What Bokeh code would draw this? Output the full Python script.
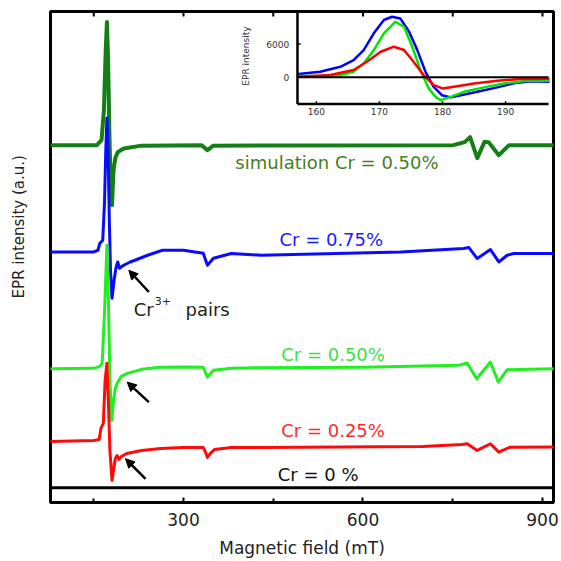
import math
from bokeh.plotting import figure
from bokeh.models import Range1d, FixedTicker, Arrow, NormalHead, Title
from bokeh.core.properties import value
from bokeh.embed import file_html
from bokeh.resources import INLINE

# ---------------- main spectra (field in mT, intensity in a.u. incl. vertical offset) -------------
sim_field = [78, 155, 163, 167, 170, 172, 174, 176, 178, 180.5, 183, 186, 190, 200, 230, 330, 340, 350,
             751, 770, 779, 791, 803, 810, 827, 844, 918]
sim_int = [357, 357, 362, 392, 452, 480, 442, 372, 322, 297, 332, 344, 350, 353.7, 356.5, 357, 352, 356.5,
           357, 360, 365, 344, 360.3, 360, 347, 357, 357]

blue_field = [78, 150, 157, 160, 165, 168, 170, 172, 174, 176, 178, 180.5, 184, 187, 190, 193, 200, 210, 240,
              265, 300, 333, 340, 350, 380, 430, 663, 768, 777, 791, 813, 827, 841, 852, 918]
blue_int = [250.3, 250.3, 252, 258.7, 262, 300, 350, 384, 352, 282, 232, 204, 222, 234, 240.3, 234, 237, 240, 247,
            252, 252, 249, 237, 244, 248.7, 247, 250.3, 253.7, 254.7, 243.7, 252.7, 240.3, 247, 248.7, 248.7]

green_field = [78, 150, 160, 164, 168, 172, 175, 177, 180, 183, 186, 190, 196, 206, 230, 260, 300, 333, 340,
               350, 380, 430, 600, 760, 774, 790, 813, 826, 841, 918]
green_int = [133.7, 134, 136, 138.7, 190, 257, 190, 122, 82, 102, 114, 120, 126, 129, 133, 135, 135.3, 135,
             125.3, 132, 134, 134.7, 135, 137, 139.3, 123.7, 140.3, 120.3, 132.7, 133.7]

red_field = [78, 150, 159, 162, 166, 169, 172, 174.5, 177, 180.5, 183, 186, 189, 192, 196, 205, 230, 262, 300,
             333, 337, 340, 345, 352, 380, 430, 560, 700, 765, 774, 791, 813, 827, 846, 918]
red_int = [61, 62, 63, 74, 79, 122, 139, 100, 52, 22, 32, 44, 47, 43, 46, 49, 52, 54, 55,
           55, 50, 45, 49, 53, 55, 55, 55.5, 56, 58, 58.7, 52, 58.7, 50.3, 55.3, 55.5]

zero_field = [78, 918]
zero_int = [14.7, 14.7]

# ---------------- inset spectra ----------------
ib_field = [157.2, 160.6, 163.8, 165.9, 167.5, 169.1, 170.7, 172.0, 173.3, 174.7, 176.0, 177.3, 178.6, 179.9,
            181.3, 182.9, 185.5, 188.7, 191.3, 194.0, 196.8]
ib_int = [594, 1008, 1908, 3114, 4914, 7914, 10314, 10900, 10600, 8200, 4900, 1000, -1700, -3200,
          -3600, -3200, -2600, -1800, -1080, -700, -800]
ig_field = [157.2, 160.6, 163.8, 165.9, 167.5, 169.1, 170.7, 172.5, 173.9, 175.2, 176.5, 177.8, 178.9, 179.7,
            181.3, 183.4, 186.6, 189.7, 193.4, 196.8]
ig_int = [234, 234, 414, 1008, 2514, 4914, 7914, 10000, 9100, 5500, 1314, -1986, -3500, -4100,
          -3500, -2600, -1800, -1086, -606, -606]
ir_field = [157.2, 162.2, 165.9, 168.0, 170.2, 172.3, 173.9, 175.4, 177.0, 178.6, 180.0, 181.8, 185.0,
            188.7, 192.4, 196.8]
ir_int = [114, 414, 1314, 2814, 4614, 5514, 4914, 2814, 414, -1386, -1986, -1686, -1086, -606, -306, -246]

inset_xticks = [160, 170, 180, 190]
inset_yticks = [0, 6000]
inset_xlim = (157.0, 196.8)
inset_ylim = (-4806, 11844)

main_ticks = [300, 600, 900]
main_minor = [150, 450, 750]
y_top = 490.5

# labels
label_text = ["simulation Cr = 0.50%", "Cr = 0.75%", "Cr = 0.50%", "Cr = 0.25%", "Cr = 0 %"]
label_field = [556.5, 547, 550, 550, 525]
label_int = [339.5, 263, 148, 71.5, 28]
label_color = ["#45801c", "#1a1aff", "#3ce03c", "#ff2a2a", "#111111"]

arrow_x0 = [242.1, 242.1, 236.5]
arrow_y0 = [210.3, 100.3, 23.7]
arrow_x1 = [208.6, 205.9, 203.1]
arrow_y1 = [232, 120.3, 43.7]

FONT = "DejaVu Sans"

p = figure(width=561, height=561, x_range=Range1d(77.7, 918.4), y_range=Range1d(0, y_top),
           y_axis_location=None, output_backend="svg", toolbar_location=None,
           min_border_left=50, min_border_right=8, min_border_top=11, min_border_bottom=59)
p.grid.visible = False
p.outline_line_color = "black"
p.outline_line_width = 3
p.background_fill_color = "white"
p.border_fill_color = "white"

ax = p.xaxis[0]
ax.ticker = FixedTicker(ticks=main_ticks, minor_ticks=main_minor)
ax.major_tick_in = 5
ax.major_tick_out = 0
ax.minor_tick_in = 4
ax.minor_tick_out = 0
ax.major_tick_line_width = 2
ax.minor_tick_line_width = 2
ax.axis_line_width = 3
ax.major_label_text_font = FONT
ax.major_label_text_font_size = "17px"
ax.major_label_text_color = "#222222"
ax.major_label_standoff = 10
ax.axis_label = "Magnetic field (mT)"
ax.axis_label_text_font = FONT
ax.axis_label_text_font_size = "17px"
ax.axis_label_text_font_style = "normal"
ax.axis_label_text_color = "#222222"
ax.axis_label_standoff = 9

# top-edge ticks (mirror of the bottom axis)
p.segment(x0=main_ticks + main_minor, y0=[y_top] * 6, x1=main_ticks + main_minor, y1=[y_top - 5] * 6,
          line_color="black", line_width=2)

# y-axis title on the left (second blank line pushes it away from the frame)
p.add_layout(Title(text="EPR intensity (a.u.)\n ", align="left", offset=204, standoff=10,
                   vertical_align="bottom", text_font=FONT, text_font_size="15px",
                   text_font_style="normal", text_color="#222222"), "left")

# main traces
LJ = dict(line_join="round", line_cap="round")
p.line(sim_field, sim_int, line_color="#148014", line_width=4, **LJ)
p.line(blue_field, blue_int, line_color="#0a0aff", line_width=3, **LJ)
p.line(green_field, green_int, line_color="#22ee22", line_width=3, **LJ)
p.line(red_field, red_int, line_color="#ff0a0a", line_width=3, **LJ)
p.line(zero_field, zero_int, line_color="black", line_width=3)

p.text(x=label_field, y=label_int, text=label_text, text_color=label_color,
       text_font=value(FONT), text_font_size="18px", text_align="center", text_baseline="alphabetic")

p.text(x=[216.9], y=[193], text=["Cr"], text_color="#222222", text_font=value(FONT),
       text_font_size="18px", text_align="left", text_baseline="alphabetic")
p.text(x=[252], y=[201], text=["3+"], text_color="#222222", text_font=value(FONT),
       text_font_size="11px", text_align="left", text_baseline="alphabetic")
p.text(x=[303.3], y=[193], text=["pairs"], text_color="#222222", text_font=value(FONT),
       text_font_size="18px", text_align="left", text_baseline="alphabetic")

for x0, y0, x1, y1 in zip(arrow_x0, arrow_y0, arrow_x1, arrow_y1):
    p.add_layout(Arrow(x_start=x0, y_start=y0, x_end=x1, y_end=y1, line_width=2.5, line_color="black",
                       end=NormalHead(size=9, fill_color="black", line_color="black")))

# ---------------- inset via extra ranges ----------------
def outer(lo, hi, f0, f1):
    span = (hi - lo) / (f1 - f0)
    s = lo - f0 * span
    return s, s + span

ixs, ixe = outer(inset_xlim[0], inset_xlim[1], 0.491, 0.990)
iys, iye = outer(inset_ylim[0], inset_ylim[1], 0.8114, 1.0)
p.extra_x_ranges = {"ix": Range1d(ixs, ixe)}
p.extra_y_ranges = {"iy": Range1d(iys, iye)}
kw = dict(x_range_name="ix", y_range_name="iy")

p.line(ib_field, ib_int, line_color="#0000ff", line_width=2.5, **LJ, **kw)
p.line(ig_field, ig_int, line_color="#00e600", line_width=2.5, **LJ, **kw)
p.line(ir_field, ir_int, line_color="#ff0000", line_width=2.5, **LJ, **kw)
p.segment(x0=[inset_xlim[0]], y0=[0], x1=[inset_xlim[1]], y1=[0], line_color="black", line_width=2, **kw)
p.segment(x0=[inset_xlim[0], inset_xlim[0]], y0=[inset_ylim[0], inset_ylim[0]],
          x1=[inset_xlim[0], inset_xlim[1]], y1=[inset_ylim[1], inset_ylim[0]],
          line_color="black", line_width=2.5, **kw)
p.segment(x0=inset_xticks, y0=[inset_ylim[0]] * 4, x1=inset_xticks, y1=[inset_ylim[0] + 500] * 4,
          line_color="black", line_width=1.5, **kw)
p.segment(x0=[inset_xlim[0]] * 2, y0=inset_yticks, x1=[inset_xlim[0] + 0.5] * 2, y1=inset_yticks,
          line_color="black", line_width=1.5, **kw)
p.text(x=inset_xticks, y=[-6200] * 4, text=[str(t) for t in inset_xticks], text_color="#333333",
       text_font=value(FONT), text_font_size="9px", text_align="center", text_baseline="middle", **kw)
p.text(x=[155.7] * 2, y=inset_yticks, text=[str(t) for t in inset_yticks], text_color="#333333",
       text_font=value(FONT), text_font_size="9px", text_align="right", text_baseline="middle", **kw)
p.text(x=[148.8], y=[3834], text=["EPR intensity"], angle=math.pi / 2, text_color="#333333",
       text_font=value(FONT), text_font_size="9px", text_align="center", text_baseline="middle", **kw)

open("out.html", "w").write(file_html(p, INLINE))
